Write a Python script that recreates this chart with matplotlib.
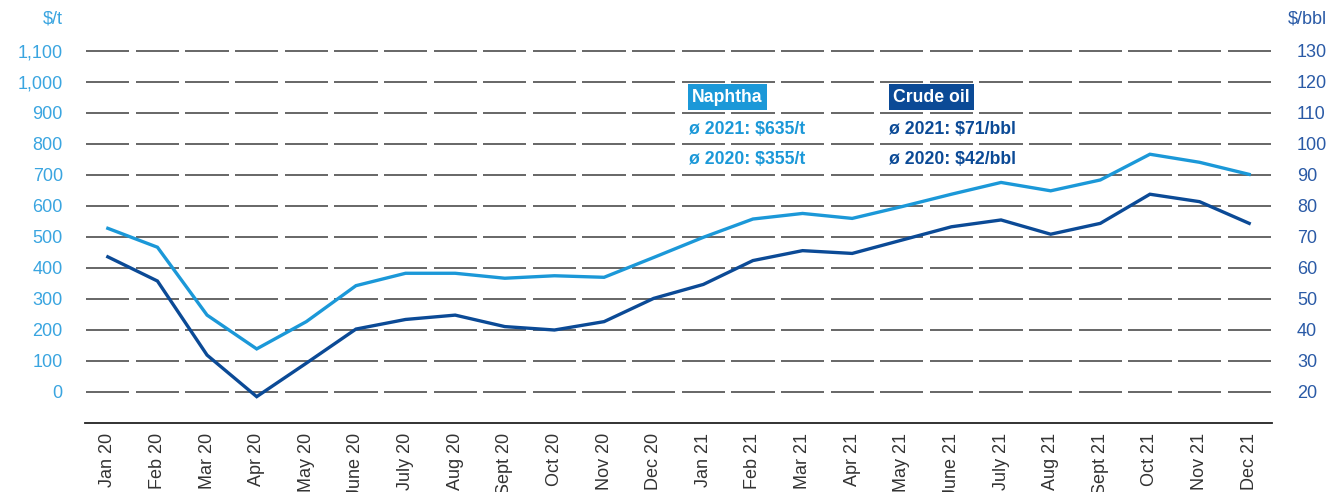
import matplotlib
matplotlib.use("Agg")
import matplotlib.pyplot as plt

plt.rcParams['font.family'] = ['Liberation Sans', 'DejaVu Sans']

months = ["Jan 20", "Feb 20", "Mar 20", "Apr 20", "May 20", "June 20", "July 20", "Aug 20",
          "Sept 20", "Oct 20", "Nov 20", "Dec 20", "Jan 21", "Feb 21", "Mar 21", "Apr 21",
          "May 21", "June 21", "July 21", "Aug 21", "Sept 21", "Oct 21", "Nov 21", "Dec 21"]
naphtha = [527, 466, 247, 138, 226, 342, 382, 382, 366, 374, 369, 433,
           498, 557, 575, 559, 597, 637, 675, 648, 683, 766, 740, 701]
crude = [63.5, 55.7, 31.8, 18.4, 29.2, 40.2, 43.3, 44.7, 41.0, 39.9, 42.6, 50.1,
         54.6, 62.3, 65.5, 64.6, 68.9, 73.2, 75.4, 70.8, 74.3, 83.7, 81.3, 74.3]
left_ticks = [0, 100, 200, 300, 400, 500, 600, 700, 800, 900, 1000, 1100]
right_ticks = [20, 30, 40, 50, 60, 70, 80, 90, 100, 110, 120, 130]
legend_naphtha = ["ø 2021: $635/t", "ø 2020: $355/t"]
legend_crude = ["ø 2021: $71/bbl", "ø 2020: $42/bbl"]

C_NAP = "#1b98d8"
C_CRU = "#0b4a96"
C_LTICK = "#3aa5e0"
C_RTICK = "#2a5aa6"

W, H = 1332, 492
fig = plt.figure(figsize=(W / 100, H / 100), dpi=100)
ax = fig.add_axes([85 / W, 1 - 423 / H, (1272 - 85) / W, (423 - 19.7) / H])

ylo, yhi = -101, 1200
x = list(range(len(months)))
ax.set_xlim(-0.46, len(months) - 1 + 0.46)
ax.set_ylim(ylo, yhi)

# segmented grid lines (one dash per category)
for v in left_ticks:
    ax.hlines([v] * len(x), [i - 0.435 for i in x], [i + 0.435 for i in x],
              colors="#4d4d4d", linewidth=1.2, zorder=1)

ax.plot(x, naphtha, color=C_NAP, linewidth=2.4, zorder=3, solid_joinstyle="miter")

ax2 = ax.twinx()
ax2.set_ylim(20 + ylo / 10, 20 + yhi / 10)
ax2.plot(x, crude, color=C_CRU, linewidth=2.4, zorder=3, solid_joinstyle="miter")

for a in (ax, ax2):
    for s in a.spines.values():
        s.set_visible(False)
ax.spines['bottom'].set_visible(True)
ax.spines['bottom'].set_color("#222222")
ax.spines['bottom'].set_linewidth(1.3)

FS = 13
ax.set_yticks(left_ticks)
ax.set_yticklabels([f"{v:,}" for v in left_ticks], color=C_LTICK, fontsize=FS)
ax.tick_params(axis='y', length=0, pad=16)
ax2.set_yticks(right_ticks)
ax2.set_yticklabels([str(v) for v in right_ticks], color=C_RTICK, fontsize=FS)
ax2.tick_params(axis='y', length=0, pad=18)

ax.set_xticks(x)
ax.set_xticklabels(months, rotation=90, fontsize=FS, color="#333333")
ax.tick_params(axis='x', length=0, pad=7)

def px(xp, yp):
    return xp / W, 1 - yp / H

fig.text(*px(63, 19), "$/t", color=C_LTICK, fontsize=FS, ha="right", va="center")
fig.text(*px(1327, 19), "$/bbl", color=C_RTICK, fontsize=FS, ha="right", va="center")

fig.text(*px(692, 97), "Naphtha", color="white", fontsize=12.7, fontweight="bold",
         ha="left", va="center",
         bbox=dict(boxstyle="square,pad=0.25", facecolor=C_NAP, edgecolor="none"))
fig.text(*px(893, 97), "Crude oil", color="white", fontsize=12.7, fontweight="bold",
         ha="left", va="center",
         bbox=dict(boxstyle="square,pad=0.25", facecolor=C_CRU, edgecolor="none"))
for i, t in enumerate(legend_naphtha):
    fig.text(*px(689, 130 + 30 * i), t, color=C_NAP, fontsize=12.7, fontweight="bold",
             ha="left", va="center")
for i, t in enumerate(legend_crude):
    fig.text(*px(889, 130 + 30 * i), t, color=C_CRU, fontsize=12.7, fontweight="bold",
             ha="left", va="center")

fig.savefig("out.png", dpi=100, facecolor="white")
